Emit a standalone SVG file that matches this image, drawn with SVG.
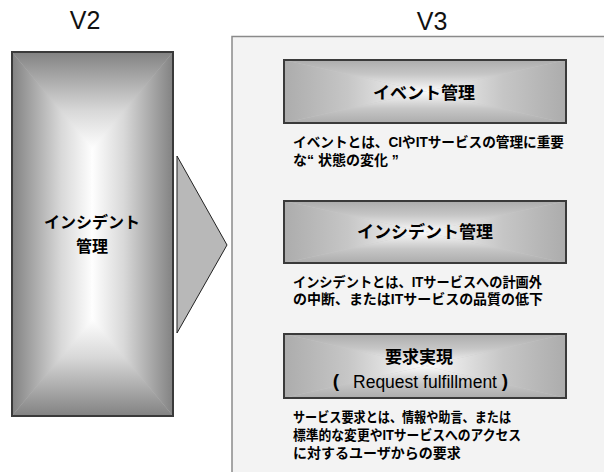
<svg xmlns="http://www.w3.org/2000/svg" xmlns:xlink="http://www.w3.org/1999/xlink" width="604" height="472" viewBox="0 0 604 472">
<style>
.hdr{font-family:"Liberation Sans","Noto Sans CJK JP",sans-serif;font-size:25px;fill:#111;text-anchor:middle}
.jp{font-family:"Liberation Sans","Noto Sans CJK JP",sans-serif;font-weight:bold;fill:#000}
.t16{font-size:16px;text-anchor:middle}
.t17{font-size:17px;text-anchor:middle}
.d{font-size:14px}
.lat{font-family:"Liberation Sans",sans-serif;font-size:17.5px;fill:#000;text-anchor:middle}
.par{font-family:"Liberation Sans",sans-serif;font-weight:bold;font-size:19px;fill:#000;text-anchor:middle}
.frame{fill:none;stroke:#3a3a3a;stroke-width:2}
.panel{fill:#f3f3f3;stroke:#8a8a8a;stroke-width:1.5}
</style>
<defs>
<linearGradient id="dV" x1="0" y1="0" x2="0" y2="1">
<stop offset="0" stop-color="#828282"/><stop offset="0.25" stop-color="#a6a6a6"/><stop offset="0.6" stop-color="#d8d8d8"/><stop offset="1" stop-color="#ffffff"/>
</linearGradient>
<linearGradient id="dVb" xlink:href="#dV" href="#dV" x1="0" y1="1" x2="0" y2="0"/>
<linearGradient id="dH" xlink:href="#dV" href="#dV" x1="0" y1="0" x2="1" y2="0"/>
<linearGradient id="dHr" xlink:href="#dV" href="#dV" x1="1" y1="0" x2="0" y2="0"/>
<linearGradient id="lV" x1="0" y1="0" x2="0" y2="1">
<stop offset="0" stop-color="#acacac"/><stop offset="0.45" stop-color="#c6c6c6"/><stop offset="1" stop-color="#fbfbfb"/>
</linearGradient>
<linearGradient id="lVb" xlink:href="#lV" href="#lV" x1="0" y1="1" x2="0" y2="0"/>
<linearGradient id="lH" xlink:href="#lV" href="#lV" x1="0" y1="0" x2="1" y2="0"/>
<linearGradient id="lHr" xlink:href="#lV" href="#lV" x1="1" y1="0" x2="0" y2="0"/>
</defs>

<rect x="0" y="0" width="604" height="472" fill="#ffffff"/>

<text class="hdr" x="85" y="29">V2</text>
<text class="hdr" x="432" y="30">V3</text>

<g id="v2-incident">
<rect x="12" y="52" width="161" height="364" fill="#c8c8c8"/>
<polygon points="12,416 173,416 92.5,318" fill="url(#dVb)"/>
<polygon points="12,52 173,52 92.5,150" fill="url(#dV)"/>
<polygon points="12,52 12,416 93.5,318 93.5,150" fill="url(#dH)"/>
<polygon points="173,52 173,416 91.5,318 91.5,150" fill="url(#dHr)"/>
<rect class="frame" x="12" y="52" width="161" height="364"/>
<text class="jp t16" x="92" y="228">インシデント</text>
<text class="jp t16" x="92" y="252">管理</text>
</g>

<g id="connectors">
<polygon points="177,156 227,245 177,333" fill="#b8b8b8" stroke="#222" stroke-width="1"/>
</g>

<g id="v3-panel">
<rect class="panel" x="232" y="36.5" width="380" height="450"/>
</g>

<g id="event">
<rect x="284" y="60" width="282" height="63" fill="#c8c8c8"/>
<polygon points="284,60 566,60 425,91.5" fill="url(#lV)"/>
<polygon points="284,123 566,123 425,91.5" fill="url(#lVb)"/>
<polygon points="284,60 284,123 425,91.5" fill="url(#lH)"/>
<polygon points="566,60 566,123 425,91.5" fill="url(#lHr)"/>
<rect class="frame" x="284" y="60" width="282" height="63"/>
<text class="jp t17" x="424" y="99">イベント管理</text>
<text class="jp d" x="293" y="147" textLength="271" lengthAdjust="spacingAndGlyphs">イベントとは、CIやITサービスの管理に重要</text>
<text class="jp d" x="293" y="164.5">な“ 状態の変化 ”</text>
</g>

<g id="incident">
<rect x="284" y="201" width="282" height="62" fill="#c8c8c8"/>
<polygon points="284,201 566,201 425,232" fill="url(#lV)"/>
<polygon points="284,263 566,263 425,232" fill="url(#lVb)"/>
<polygon points="284,201 284,263 425,232" fill="url(#lH)"/>
<polygon points="566,201 566,263 425,232" fill="url(#lHr)"/>
<rect class="frame" x="284" y="201" width="282" height="62"/>
<text class="jp t17" x="425" y="238">インシデント管理</text>
<text class="jp d" x="293" y="287" textLength="249" lengthAdjust="spacingAndGlyphs">インシデントとは、ITサービスへの計画外</text>
<text class="jp d" x="293" y="304" textLength="250" lengthAdjust="spacingAndGlyphs">の中断、またはITサービスの品質の低下</text>
</g>

<g id="request">
<rect x="284" y="334" width="282" height="64" fill="#c8c8c8"/>
<polygon points="284,334 566,334 425,366" fill="url(#lV)"/>
<polygon points="284,398 566,398 425,366" fill="url(#lVb)"/>
<polygon points="284,334 284,398 425,366" fill="url(#lH)"/>
<polygon points="566,334 566,398 425,366" fill="url(#lHr)"/>
<rect class="frame" x="284" y="334" width="282" height="64"/>
<text class="jp t17" x="419" y="362.5">要求実現</text>
<text class="par" x="336" y="387">(</text>
<text class="lat" x="425" y="388">Request fulfillment</text>
<text class="par" x="505" y="387">)</text>
<text class="jp d" x="293" y="422.3" textLength="218" lengthAdjust="spacingAndGlyphs">サービス要求とは、情報や助言、または</text>
<text class="jp d" x="293" y="440.3" textLength="228" lengthAdjust="spacingAndGlyphs">標準的な変更やITサービスへのアクセス</text>
<text class="jp d" x="293" y="458.3">に対するユーザからの要求</text>
</g>
</svg>
